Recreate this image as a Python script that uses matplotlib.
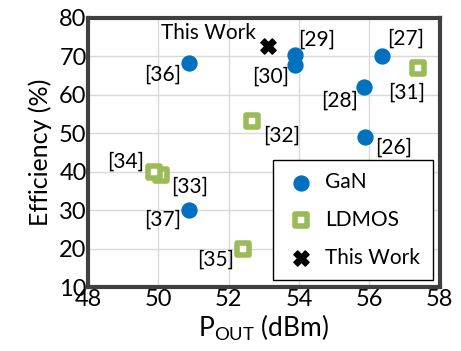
import matplotlib
matplotlib.use('Agg')
from matplotlib import pyplot as plt

plt.rcParams['font.family'] = ['Lato', 'DejaVu Sans']

gan_x = [55.86, 56.36, 55.84, 53.87, 53.87, 50.86, 50.88]
gan_y = [49.0, 70.1, 61.9, 70.2, 67.8, 68.3, 30.0]
gan_lab = ['[26]', '[27]', '[28]', '[29]', '[30]', '[36]', '[37]']

ld_x = [57.37, 52.65, 50.07, 49.88, 52.41]
ld_y = [66.8, 53.2, 39.0, 40.0, 20.0]
ld_lab = ['[31]', '[32]', '[33]', '[34]', '[35]']

tw_x = [53.12]
tw_y = [72.7]

# label placement (pixel offset from the marker, horizontal alignment)
lab_pos = {
    '[26]': (11, -11, 'left'), '[27]': (5, 17, 'left'), '[28]': (-6, -13, 'right'),
    '[29]': (4, 16, 'left'), '[30]': (-5, -12, 'right'), '[36]': (-8, -12, 'right'),
    '[37]': (-8, -10, 'right'), '[31]': (-11, -24, 'center'), '[32]': (12, -15, 'left'),
    '[33]': (10, -11, 'left'), '[34]': (-10, 10, 'right'), '[35]': (-9, -11, 'right'),
}

fig = plt.figure(figsize=(4.61, 3.51), dpi=100)
ax = fig.add_axes([0.191, 0.182, 0.763, 0.768])

blue = '#0070C0'
green = '#9BBB59'

ax.scatter(gan_x, gan_y, s=115, color=blue, zorder=3, label='GaN')
ax.scatter(ld_x, ld_y, s=80, marker='s', facecolor='white', edgecolor=green,
           linewidths=4, zorder=3, label='LDMOS')
ax.scatter(tw_x, tw_y, s=120, marker='X', color='black', zorder=3, label='This Work')

for x, y, t in list(zip(gan_x, gan_y, gan_lab)) + list(zip(ld_x, ld_y, ld_lab)):
    dx, dy, ha = lab_pos[t]
    ax.annotate(t, (x, y), xytext=(dx, dy), textcoords='offset pixels',
                fontsize=15, ha=ha, va='center')
ax.annotate('This Work', (tw_x[0], tw_y[0]), xytext=(-12, 13), textcoords='offset pixels',
            fontsize=15, ha='right', va='center')

ax.set_xlim(48, 58)
ax.set_ylim(10, 80)
ax.set_xticks([48, 50, 52, 54, 56, 58])
ax.set_yticks([10, 20, 30, 40, 50, 60, 70, 80])
ax.grid(True, color='#d9d9d9', linewidth=1)
ax.set_axisbelow(True)
ax.tick_params(length=0, labelsize=17, pad=1)
for s in ax.spines.values():
    s.set_linewidth(3)
    s.set_color('#404040')

ax.set_xlabel('P$_{\\mathregular{OUT}}$ (dBm)', fontsize=19, labelpad=2)
ax.set_ylabel('Efficiency (%)', fontsize=18, labelpad=5)

leg = ax.legend(loc='lower right', fontsize=15, frameon=True, fancybox=False,
                edgecolor='black', framealpha=1, borderpad=0.6, labelspacing=0.85,
                handletextpad=0.4, handlelength=1.5, borderaxespad=0,
                bbox_to_anchor=(0.98, 0.026))
leg.get_frame().set_linewidth(1)

fig.savefig('out.png', dpi=100)
